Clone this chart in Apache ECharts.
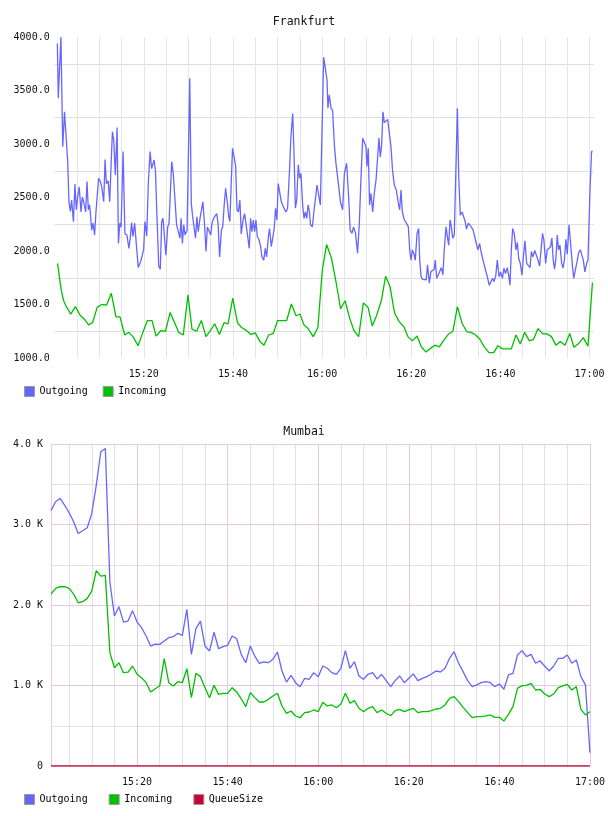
<!DOCTYPE html>
<html>
<head>
<meta charset="utf-8">
<title>Frankfurt / Mumbai</title>
<script src="https://cdn.jsdelivr.net/npm/echarts@6/dist/echarts.min.js"></script>
<style>
  html, body { margin: 0; padding: 0; background: #fff; }
  #chart { width: 608px; height: 816px; }
</style>
</head>
<body>
<div id="chart"></div>
<script>
// x values are minutes after 15:00
var frankOutT = [
  0.6,0.8,1.2,1.4,1.6,1.8,2.2,2.4,2.9,3.2,
  3.5,3.8,4.2,4.55,4.85,5.15,5.5,5.9,6.2,6.5,
  6.95,7.25,7.55,7.85,8.3,8.6,8.95,9.25,9.55,9.85,
  10.25,10.55,11.0,11.3,11.6,12.0,12.35,12.65,12.95,13.25,
  13.6,14.0,14.3,14.6,14.9,15.35,15.75,16.2,16.65,16.95,
  17.25,17.55,17.95,18.3,18.75,19.05,19.35,19.65,19.95,20.25,
  20.65,21.0,21.4,21.75,22.0,22.3,22.6,22.95,23.35,23.7,
  24.0,24.3,24.95,25.35,25.65,26.25,26.6,27.0,27.35,27.65,
  28.1,28.35,28.65,28.95,29.25,29.7,30.3,
  30.65,30.95,31.25,31.6,31.9,32.2,32.6,32.9,33.25,33.65,
  33.95,34.25,34.6,35.0,35.3,35.65,36.05,36.35,36.65,37.0,
  37.4,37.7,38.0,38.35,38.75,39.05,39.3,39.6,39.9,40.3,
  40.6,40.9,41.2,41.55,41.85,42.25,42.6,43.0,43.35,43.65,
  43.95,44.25,44.55,44.85,45.15,45.45,45.85,46.2,46.5,46.9,
  47.25,47.55,47.95,48.2,48.6,48.9,49.25,49.55,49.85,50.15,
  50.55,50.85,51.2,51.6,51.9,52.25,52.65,53.0,53.4,53.7,
  54.0,54.3,54.65,54.95,55.25,55.65,55.95,56.25,56.55,56.85,
  57.1,57.4,57.8,58.15,58.55,58.85,59.2,59.6,
  60.35,60.7,61.1,61.3,61.6,62.0,62.35,62.75,63.1,63.65,
  64.1,64.6,65.0,65.5,65.95,66.3,66.7,67.05,67.5,67.95,
  68.35,68.7,69.1,69.45,69.85,70.05,70.35,70.65,70.95,71.35,
  71.7,72.1,72.45,72.75,73.05,73.35,73.65,73.95,74.35,74.7,
  75.05,75.45,75.8,76.2,76.65,77.1,77.4,77.7,78.0,78.45,
  78.9,79.35,79.65,79.95,80.25,80.55,80.9,81.3,81.65,81.9,
  82.2,82.55,82.95,83.35,83.65,84.05,84.4,84.8,85.15,85.4,
  85.7,86.05,86.45,86.75,87.1,87.4,87.8,88.1,88.4,88.7,
  89.0,89.3,89.65,
  90.35,90.65,91.0,91.4,91.75,92.1,92.4,92.8,93.1,93.45,
  93.85,94.2,94.6,94.95,95.35,95.7,96.1,96.45,96.85,97.15,
  97.5,97.9,98.25,98.55,98.95,99.3,99.7,100.05,100.45,100.8,
  101.15,101.55,101.9,102.15,102.45,102.75,103.1,103.5,103.8,104.1,
  104.45,104.85,105.15,105.5,105.9,106.25,106.65,106.95,107.3,107.7,
  108.05,108.45,108.8,109.2,109.45,109.75,110.15,110.5,110.9,111.25,
  111.55,111.85,112.15,112.45,112.75,113.05,113.35,113.75,114.05,114.35,
  114.7,115.0,115.4,115.75,116.15,116.45,116.8,117.2,117.55,117.95,
  118.3,118.6,118.95,119.35,119.65,120.1,120.45,120.7
];
var frankOutV = [
  3940,3430,3440,4000,4000,2975,3300,3300,2850,2460,
  2370,2475,2275,2625,2385,2505,2600,2365,2505,2460,
  2365,2650,2385,2430,2195,2260,2150,2360,2360,2680,
  2650,2600,2460,2855,2630,2655,2460,2805,3115,3035,
  2710,3155,2070,2260,2225,2930,2160,2150,2025,2120,
  2265,2135,2260,2070,1845,1840,1910,1915,2010,2275,
  2140,2630,2930,2770,2770,2850,2755,2320,1855,1830,
  2275,2305,1960,2225,2260,2835,2725,2730,2245,2260,
  2120,2305,2070,2245,2150,2195,3615,
  2445,2320,2320,2120,2320,2180,2305,2320,2460,2225,
  1995,2225,2225,2150,2260,2305,2305,2350,2260,1945,
  2195,2225,2415,2585,2445,2320,2275,2630,2960,2865,
  2790,2385,2365,2475,2160,2290,2350,2335,2120,2025,
  2305,2180,2290,2180,2290,2135,2105,2040,1945,1915,
  2025,1945,2135,2210,2040,2025,2210,2400,2290,2630,
  2615,2460,2445,2385,2365,2400,2725,3070,3285,2910,
  2400,2475,2805,2680,2725,2415,2305,2365,2305,2430,
  2385,2245,2225,2365,2505,2615,2615,2430,
  3810,3810,3600,3335,3460,3335,3315,2990,2820,2630,
  2460,2385,2725,2820,2505,2195,2165,2225,2165,1980,
  2260,2665,3055,3070,2975,2790,2960,2430,2540,2365,
  2540,2665,2680,3055,2880,2990,3300,3200,3200,3230,
  3225,2975,2755,2615,2570,2445,2385,2570,2365,2290,
  2260,2225,2010,1915,2010,1980,1915,2165,2210,1915,
  1760,1735,1745,1730,1870,1700,1805,1805,1830,1915,
  1745,1775,1775,1845,1775,2010,2225,2135,2055,2290,
  2225,2120,2150,
  3335,2695,2335,2365,2365,2275,2205,2260,2275,2225,
  2200,2195,2070,2010,2070,1985,1915,1855,1860,1745,
  1680,1680,1745,1715,1765,1915,1760,1805,1745,1840,
  1790,1845,1760,1680,2010,2210,2165,2010,2080,1930,
  1885,1775,1945,2095,1885,1900,1845,1995,1945,2005,
  1995,1915,1860,1870,2165,2105,1885,2010,2025,2040,
  2120,1915,1830,1930,2150,2010,2055,1885,1840,1915,
  2110,1970,2245,2070,1870,1745,1820,1900,1985,2010,
  2025,1915,1805,1885,1915,2570,2930,2930
];
var frankInT = [
  0.65,1.4,1.95,2.55,3.6,4.65,5.7,6.7,7.6,8.5,
  9.55,10.6,11.65,12.7,13.75,14.65,15.7,16.65,17.65,18.7,
  19.75,20.8,21.85,22.75,23.8,24.85,25.9,26.8,27.8,28.85,
  29.9,30.8,31.85,32.9,33.95,35.0,35.9,36.95,38.0,38.9,
  39.95,41.0,41.9,42.95,44.0,45.0,46.05,46.95,48.0,49.05,
  50.0,51.0,52.05,53.1,54.15,55.05,55.9,56.85,58.0,59.05,
  60.05,61.0,62.05,63.1,64.15,65.15,66.2,67.15,68.2,69.25,
  70.3,71.25,72.25,73.3,74.25,75.25,76.25,77.3,78.3,79.25,
  80.25,81.3,82.25,83.3,84.3,85.3,86.3,87.35,88.4,89.35,
  90.35,91.4,92.45,93.4,94.45,95.4,96.45,97.45,98.5,99.45,
  100.5,101.5,102.45,103.5,104.45,105.45,106.5,107.45,108.45,109.5,
  110.45,111.45,112.45,113.45,114.5,115.55,116.5,117.55,118.6,119.65,
  120.65
];
var frankInV = [
  1885,1650,1540,1485,1410,1480,1400,1360,1310,1330,
  1475,1500,1495,1605,1385,1385,1215,1240,1195,1115,
  1235,1350,1350,1205,1255,1250,1425,1340,1240,1215,
  1590,1270,1250,1350,1200,1260,1320,1220,1330,1320,
  1560,1330,1285,1260,1220,1235,1155,1120,1215,1230,
  1350,1350,1350,1505,1395,1410,1310,1275,1200,1285,
  1825,2060,1940,1715,1460,1535,1370,1255,1200,1515,
  1475,1300,1400,1540,1765,1665,1420,1340,1295,1200,
  1160,1205,1105,1055,1090,1120,1105,1170,1225,1250,
  1480,1325,1245,1240,1215,1175,1100,1050,1050,1115,
  1085,1085,1085,1215,1130,1240,1160,1175,1275,1225,
  1225,1200,1120,1155,1120,1230,1100,1135,1190,1110,
  1705
];

// Mumbai: one sample per minute, first at 15:01
var mumbaiStart = 1;
var mumbaiStep = 1;
var mumbaiOut = [
  3171,3283,3324,3241,3146,3034,2889,2923,2960,3138,
  3490,3904,3945,2289,1863,1979,1788,1800,1930,1788,
  1718,1615,1490,1515,1511,1553,1594,1606,1648,1623,
  1945,1387,1706,1800,1490,1428,1664,1457,1482,1499,
  1615,1581,1387,1283,1490,1366,1275,1292,1283,1325,
  1416,1180,1043,1126,1035,985,1089,1077,1160,1110,
  1242,1214,1160,1139,1214,1433,1214,1296,1118,1077,
  1139,1160,1081,1139,1060,986,1060,1118,1035,1089,
  1143,1060,1089,1110,1143,1180,1168,1214,1338,1420,
  1276,1172,1060,986,1007,1035,1048,1035,986,1019,
  953,1131,1151,1379,1433,1358,1387,1276,1305,1242,
  1180,1242,1338,1338,1379,1276,1317,1110,1007,166
];
var mumbaiIn = [
  2136,2206,2227,2227,2206,2136,2028,2041,2082,2173,
  2426,2359,2368,1408,1221,1283,1159,1167,1242,1139,
  1097,1035,919,960,994,1333,1035,994,1047,1035,
  1209,849,1151,1110,973,849,1002,890,903,903,
  973,919,836,737,911,849,795,795,828,869,
  903,745,654,683,621,600,663,671,696,675,
  791,746,758,725,771,903,779,812,717,675,
  717,737,663,696,655,626,688,704,675,696,
  717,663,675,675,688,708,717,758,841,862,
  800,729,663,601,613,613,622,634,605,605,
  559,642,737,965,998,1002,1027,944,953,895,
  862,895,973,994,1015,944,986,704,634,675
];
var mumbaiQueue = [
  0,0,0,0,0,0,0,0,0,0,0,0,0,0,0,0,0,0,0,0,
  0,0,0,0,0,0,0,0,0,0,0,0,0,0,0,0,0,0,0,0,
  0,0,0,0,0,0,0,0,0,0,0,0,0,0,0,0,0,0,0,0,
  0,0,0,0,0,0,0,0,0,0,0,0,0,0,0,0,0,0,0,0,
  0,0,0,0,0,0,0,0,0,0,0,0,0,0,0,0,0,0,0,0,
  0,0,0,0,0,0,0,0,0,0,0,0,0,0,0,0,0,0,0,0
];
// the Mumbai plot draws its 20 min / 1 K grid lines in pink
var mumbaiMajorX = [1, 20, 40, 60, 80, 100, 120];
var mumbaiMajorY = [1000, 2000, 3000, 4000];

var blue = '#6666ff';
var green = '#00c000';
var red = '#cc0033';
var grey = '#e2e2e2';
var pink = '#e6c8e6';
var mono = 'DejaVu Sans Mono';

function zip(ts, vs) {
  var out = [];
  for (var i = 0; i < Math.min(ts.length, vs.length); i++) out.push([ts[i], vs[i]]);
  return out;
}
function perMinute(vs) {
  return vs.map(function(v, i) { return [mumbaiStart + i * mumbaiStep, v]; });
}
function clock(v) {
  if (v <= 0 || v % 20 !== 0) return '';
  var h = 15 + Math.floor(v / 60), m = v % 60;
  return h + ':' + (m < 10 ? '0' : '') + m;
}
function line(name, color, data, idx, z) {
  return {
    name: name, type: 'line', xAxisIndex: idx, yAxisIndex: idx,
    data: data, showSymbol: false, symbol: 'none', z: z,
    color: color, itemStyle: { color: color },
    lineStyle: { color: color, width: 1.3 }
  };
}

var queue = line('QueueSize', red, perMinute(mumbaiQueue), 1, 4);
queue.markLine = {
  silent: true, symbol: ['none', 'none'], z: 1, animation: false,
  label: { show: false },
  lineStyle: { color: pink, type: 'solid', width: 1 },
  data: mumbaiMajorX.map(function(x) { return { xAxis: x }; })
    .concat(mumbaiMajorY.map(function(y) { return { yAxis: y }; }))
};

var chart = echarts.init(document.getElementById('chart'), null, { renderer: 'canvas' });
chart.setOption({
  animation: false,
  backgroundColor: '#fff',
  title: [
    { text: 'Frankfurt', left: 'center', top: 11,
      textStyle: { fontFamily: mono, fontSize: 11.5, fontWeight: 'normal', color: '#111' } },
    { text: 'Mumbai', left: 'center', top: 421,
      textStyle: { fontFamily: mono, fontSize: 11.5, fontWeight: 'normal', color: '#111' } }
  ],
  legend: [
    { data: ['Outgoing', 'Incoming'], left: 24, top: 386, padding: 0, icon: 'rect',
      itemWidth: 10, itemHeight: 10, itemGap: 15,
      itemStyle: { borderColor: '#999', borderWidth: 1 },
      textStyle: { fontFamily: mono, fontSize: 10, color: '#000' } },
    { data: ['Outgoing', 'Incoming', 'QueueSize'], left: 24, top: 794, padding: 0, icon: 'rect',
      itemWidth: 10, itemHeight: 10, itemGap: 21,
      itemStyle: { borderColor: '#999', borderWidth: 1 },
      textStyle: { fontFamily: mono, fontSize: 10, color: '#000' } }
  ],
  grid: [
    { left: 54.7, right: 14, top: 37, bottom: 458 },
    { left: 51, right: 16, top: 444, bottom: 50 }
  ],
  xAxis: [
    { type: 'value', gridIndex: 0, min: 0, max: 121, minInterval: 5, maxInterval: 5,
      axisLine: { show: false }, axisTick: { show: false },
      axisLabel: { formatter: clock, margin: 11, fontFamily: mono, fontSize: 10, color: '#111' },
      splitLine: { show: true, showMinLine: false, showMaxLine: false,
        lineStyle: { color: '#e6e6e6', width: 1 } } },
    { type: 'value', gridIndex: 1, min: 1, max: 120, minInterval: 5, maxInterval: 5,
      axisLine: { show: false }, axisTick: { show: false },
      axisLabel: { formatter: clock, margin: 11, fontFamily: mono, fontSize: 10, color: '#111' },
      splitLine: { show: true, lineStyle: { color: grey, width: 1 } } }
  ],
  yAxis: [
    { type: 'value', gridIndex: 0, min: 1000, max: 4000, interval: 250,
      axisLine: { show: false }, axisTick: { show: false },
      axisLabel: { margin: 5, fontFamily: mono, fontSize: 10, color: '#111',
        formatter: function(v) { return v % 500 === 0 ? v.toFixed(1) : ''; } },
      splitLine: { show: true, lineStyle: { color: ['rgba(0,0,0,0)', '#dddddd'], width: 1 } } },
    { type: 'value', gridIndex: 1, min: 0, max: 4000, interval: 500,
      axisLine: { show: false }, axisTick: { show: false },
      axisLabel: { margin: 8, fontFamily: mono, fontSize: 10, color: '#111',
        formatter: function(v) {
          if (v === 0) return '0';
          return v % 1000 === 0 ? (v / 1000).toFixed(1) + ' K' : '';
        } },
      splitLine: { show: true, lineStyle: { color: grey, width: 1 } } }
  ],
  series: [
    line('Outgoing', blue, zip(frankOutT, frankOutV), 0, 2),
    line('Incoming', green, zip(frankInT, frankInV), 0, 3),
    line('Outgoing', blue, perMinute(mumbaiOut), 1, 2),
    line('Incoming', green, perMinute(mumbaiIn), 1, 3),
    queue
  ]
});
</script>
</body>
</html>
